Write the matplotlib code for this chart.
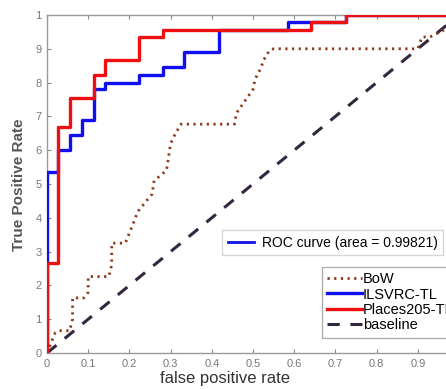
import matplotlib
matplotlib.use("Agg")
import matplotlib.pyplot as plt
from matplotlib.lines import Line2D

# staircase vertices
places_fpr = [0, 0, 0.027, 0.027, 0.057, 0.057, 0.114, 0.114, 0.141, 0.141, 0.224, 0.224, 0.281, 0.281, 0.64, 0.64, 0.726, 0.726, 1.0]
places_tpr = [0, 0.267, 0.267, 0.669, 0.669, 0.755, 0.755, 0.822, 0.822, 0.867, 0.867, 0.935, 0.935, 0.955, 0.955, 0.978, 0.978, 1.0, 1.0]

ilsvrc_fpr = [0, 0, 0.027, 0.027, 0.057, 0.057, 0.084, 0.084, 0.114, 0.114, 0.141, 0.141, 0.224, 0.224, 0.281, 0.281, 0.333, 0.333, 0.418, 0.418, 0.585, 0.585, 0.64, 0.64, 0.726, 0.726, 1.0]
ilsvrc_tpr = [0, 0.535, 0.535, 0.60, 0.60, 0.645, 0.645, 0.69, 0.69, 0.78, 0.78, 0.80, 0.80, 0.822, 0.822, 0.845, 0.845, 0.89, 0.89, 0.955, 0.955, 0.978, 0.978, 0.978, 0.978, 1.0, 1.0]

bow_fpr = [0, 0.01, 0.02, 0.03, 0.055, 0.062, 0.062, 0.09, 0.1, 0.1, 0.15, 0.157, 0.157, 0.19, 0.2, 0.21, 0.22, 0.24, 0.255,
           0.26, 0.275, 0.29, 0.30, 0.31, 0.325, 0.455, 0.46, 0.48, 0.5, 0.505, 0.52, 0.525, 0.54, 0.55, 0.9, 0.91, 0.93, 0.97]
bow_tpr = [0, 0.03, 0.06, 0.066, 0.066, 0.1, 0.163, 0.163, 0.18, 0.226, 0.226, 0.26, 0.325, 0.325, 0.355, 0.385, 0.418, 0.448, 0.47,
           0.51, 0.525, 0.54, 0.62, 0.645, 0.677, 0.677, 0.71, 0.745, 0.78, 0.81, 0.845, 0.865, 0.895, 0.9, 0.9, 0.935, 0.935, 0.96]

base = [0, 1]

xticks = [0, 0.1, 0.2, 0.3, 0.4, 0.5, 0.6, 0.7, 0.8, 0.9]
yticks = [0, 0.1, 0.2, 0.3, 0.4, 0.5, 0.6, 0.7, 0.8, 0.9, 1.0]
ytick_labels = ['0', '1', '2', '3', '4', '5', '6', '7', '8', '9', '1']

plt.rcParams['font.family'] = ['Liberation Sans', 'DejaVu Sans']

fig = plt.figure(figsize=(4.46, 3.89), dpi=100)
ax = fig.add_axes([47/446, 36/389, 412/446, 338/389])

ax.plot(base, base, color='#33263f', lw=2.2, ls=(0, (4, 3.5)), label='baseline', zorder=2)
ax.plot(bow_fpr, bow_tpr, color='#8b3a1a', lw=2.0, ls=(0, (0.8, 1.6)), label='BoW', zorder=3)
ax.plot(ilsvrc_fpr, ilsvrc_tpr, color='#1010ee', lw=2.4, label='ILSVRC-TL', zorder=4)
ax.plot(places_fpr, places_tpr, color='#ee1010', lw=2.4, label='Places205-TL', zorder=5)

ax.set_xlim(0, 1)
ax.set_ylim(0, 1)
ax.set_xticks(xticks)
ax.set_xticklabels([('%g' % t) for t in xticks])
ax.set_yticks(yticks)
ax.set_yticklabels(ytick_labels)
ax.tick_params(direction='in', length=3, colors='#888888', labelsize=8, top=True, labelcolor='#777777', pad=4)
for s in ax.spines.values():
    s.set_color('#999999')
    s.set_linewidth(1.0)

fig.text(19/446, 1 - 185/389, 'True Positive Rate', rotation=90, ha='center', va='center',
         fontsize=11, fontweight='bold', color='#555555')
fig.text(225/446, 1 - 379/389, 'false positive rate', ha='center', va='center', fontsize=12, color='#333333')

leg1 = fig.legend(handles=[Line2D([], [], color='#1010ee', lw=2)], labels=['ROC curve (area = 0.99821)'],
                  loc='upper left', bbox_to_anchor=(222/446, 1 - 230/389), frameon=True, fancybox=False,
                  prop={'size': 10}, handlelength=1.9, borderpad=0.4, handletextpad=0.55, borderaxespad=0)
leg1.get_frame().set_edgecolor('#cccccc')
leg1.get_frame().set_linewidth(1.0)

h, l = ax.get_legend_handles_labels()
order = [1, 2, 3, 0]
leg2 = fig.legend([h[i] for i in order], [l[i] for i in order], loc='upper left',
                  bbox_to_anchor=(322/446, 1 - 267/389), frameon=True, fancybox=False,
                  prop={'size': 10.5}, handlelength=2.4, handletextpad=0.05, labelspacing=0.1,
                  borderpad=0.35, borderaxespad=0)
leg2.get_frame().set_edgecolor('#999999')
leg2.get_frame().set_linewidth(1.0)

fig.savefig('out.png', dpi=100)
